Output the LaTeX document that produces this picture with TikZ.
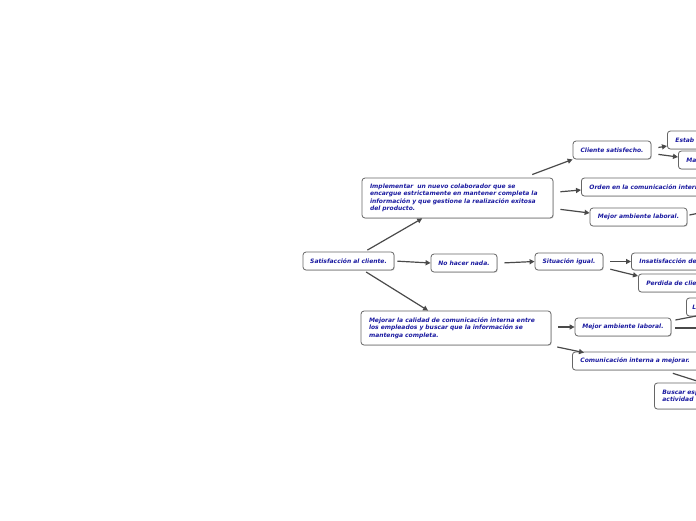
\documentclass[tikz,border=0pt]{standalone}
\usepackage{fontspec}
\newfontfamily\mapfont{DejaVu Sans}
\usetikzlibrary{calc,arrows.meta,shadows}
\definecolor{inkblue}{HTML}{1A1AA0}
\definecolor{edgegray}{HTML}{4A4A4A}
\definecolor{framegray}{HTML}{666666}
\tikzset{
  ar/.style={-{Triangle[length=5pt,width=5pt]},line width=1.2pt,edgegray,shorten <=3pt},
  ln/.style={line width=1.2pt,edgegray},
  box/.style={draw=framegray,line width=0.8pt,rounded corners=3pt,fill=white,text=inkblue,
    font=\mapfont\bfseries\itshape\fontsize{6}{7.5}\selectfont,inner sep=0pt,
    drop shadow={shadow xshift=0.8pt,shadow yshift=-0.8pt,opacity=0.3}},
  cut/.style={box,anchor=west,align=left,inner xsep=8pt,minimum height=18pt,text width=#1}
}
\begin{document}
\begin{tikzpicture}[x=1pt,y=-1pt]
\useasboundingbox (0,0) rectangle (696,520);
\clip (0,0) rectangle (696,520);
% centre
\node[box,minimum width=91pt,minimum height=18pt] (sat) at (348.5,261) {Satisfacción al cliente.};
% first level
\node[box,align=left,text width=175pt,inner xsep=8pt,minimum height=40pt] (impl) at (457.5,198)
  {Implementar\ \ un nuevo colaborador que se\\encargue estrictamente en mantener completa la\\información y que gestione la realización exitosa\\del producto.};
\node[box,minimum width=66pt,minimum height=18pt] (nada) at (464,263) {No hacer nada.};
\node[box,align=left,text width=174pt,inner xsep=8pt,minimum height=34pt] (mejorar) at (456,328)
  {Mejorar la calidad de comunicación interna entre\\los empleados y buscar que la información se\\mantenga completa.};
% second level
\node[box,minimum width=78pt,minimum height=18pt] (cliente) at (612,150) {Cliente satisfecho.};
\node[cut=150pt] (orden) at (581,187) {Orden en la comunicación intern};
\node[box,minimum width=97pt,minimum height=18pt] (mejamb1) at (638.5,217) {Mejor ambiente laboral.};
\node[box,minimum width=68pt,minimum height=17pt] (igual) at (569,261.5) {Situación igual.};
\node[box,minimum width=96pt,minimum height=18pt] (mejamb2) at (623,327) {Mejor ambiente laboral.};
\node[cut=134pt] (comint) at (572,361) {Comunicación interna a mejorar.};
% third level
\node[cut=100pt,minimum height=17pt] (insat) at (631,261.5) {Insatisfacción de};
\node[cut=90pt] (perdida) at (638,283) {Perdida de clie};
\node[cut=60pt] (estab) at (667,140) {Estab};
\node[cut=60pt] (ma) at (678,160) {Ma};
\node[cut=40pt,inner xsep=6pt] (lnode) at (686,307) {L};
\node[cut=70pt,minimum height=26pt] (buscar) at (654,396) {Buscar esp\\actividad};
% off-page ends
\coordinate (offA) at (730,207);
\coordinate (offB) at (740,307.6);
\coordinate (offC) at (740,328);
% connectors
\draw[ar] (sat) -- (impl);
\draw[ar] (sat.east) -- (nada.west);
\draw[ar] (sat) -- (mejorar);
\draw[ar] ($(impl.north east)+(-24,-2)$) -- (cliente.south west);
\draw[ar] ($(impl.east)+(4,-6)$) -- ($(orden.west)+(0,3)$);
\draw[ar] ($(impl.east)+(4,11)$) -- ($(mejamb1.west)+(0,-4)$);
\draw[ar] ($(nada.east)+(4,0)$) -- (igual.west);
\draw[ar] ($(igual.east)+(4,0)$) -- (insat.west);
\draw[ar] ($(igual.east)+(4,7)$) -- ($(perdida.west)+(0,-7)$);
\draw[ar] ($(mejorar.east)+(4,-1)$) -- (mejamb2.west);
\draw[ar] ($(mejorar.south east)+(3,1)$) -- ($(comint.north west)+(12,1)$);
\draw[ar] ($(cliente.east)+(4,-2)$) -- ($(estab.west)+(0,6)$);
\draw[ar] ($(cliente.east)+(4,4)$) -- ($(ma.west)+(0,-3)$);
\draw[ln] ($(mejamb1.east)+(2,-2)$) -- (offA);
\draw[ln] ($(mejamb2.east)+(4,-7)$) -- (offB);
\draw[ln] ($(mejamb2.east)+(4,1)$) -- (offC);
\draw[ar] ($(comint.south west)+(98,2)$) -- ($(buscar.north west)+(48,0)$);
\end{tikzpicture}
\end{document}
